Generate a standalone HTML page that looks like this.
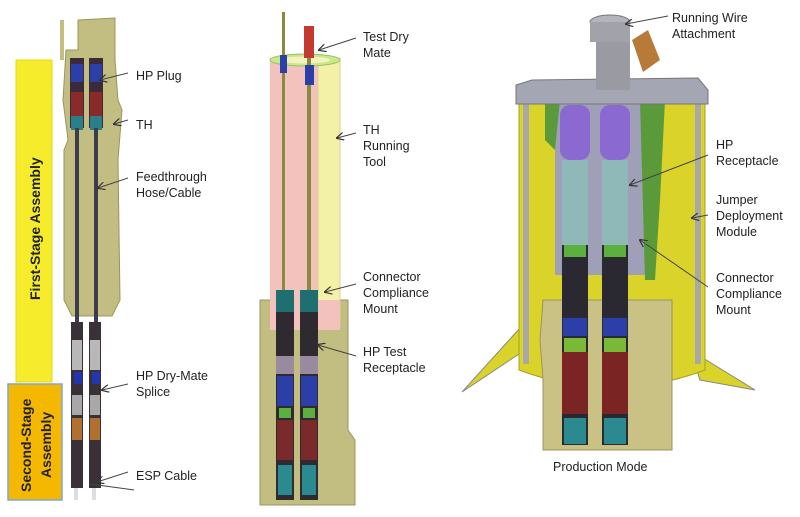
<!DOCTYPE html>
<html><head><meta charset="utf-8"><style>
html,body{margin:0;padding:0;background:#fff;}
svg{display:block}
text{font-family:"Liberation Sans",sans-serif;font-size:12.5px;fill:#222}
</style></head><body>
<svg width="800" height="517" viewBox="0 0 800 517" xmlns="http://www.w3.org/2000/svg">
<defs>
<marker id="ar" markerWidth="8" markerHeight="8" refX="7" refY="4" orient="auto"><path d="M0,0 L8,4 L0,8" fill="none" stroke="#333" stroke-width="1.2"/></marker>
</defs>
<!-- LEFT -->
<rect x="16" y="60" width="36" height="322" fill="#f7ec2c" stroke="#e6d81a"/>
<text transform="translate(40,300) rotate(-90)" style="font-weight:bold;font-size:14px">First-Stage Assembly</text>
<rect x="8" y="384" width="54" height="116" fill="#f5b800" stroke="#7da7d6" stroke-width="1.5"/>
<text transform="translate(31,492) rotate(-90)" style="font-weight:bold;font-size:14px">Second-Stage</text>
<text transform="translate(51,478) rotate(-90)" style="font-weight:bold;font-size:14px">Assembly</text>
<path d="M78,20 L115,18 L115,60 L118,100 L122,110 L118,160 L120,300 L112,316 L72,316 L64,300 L64,150 L68,140 L63,100 L66,50 L78,50 Z" fill="#c2bd80" stroke="#9a9560"/>
<rect x="60" y="20" width="4" height="40" fill="#c2bd80"/>
<rect x="70" y="58" width="14" height="70" fill="#3a2a3a"/><rect x="89" y="58" width="14" height="70" fill="#3a2a3a"/>
<rect x="71" y="64" width="12" height="18" fill="#2c3ea8"/><rect x="90" y="64" width="12" height="18" fill="#2c3ea8"/>
<rect x="71" y="92" width="12" height="24" fill="#8a2a2a"/><rect x="90" y="92" width="12" height="24" fill="#8a2a2a"/>
<rect x="71" y="116" width="12" height="14" fill="#2a7f8a"/><rect x="90" y="116" width="12" height="14" fill="#2a7f8a"/>
<rect x="75" y="128" width="4" height="195" fill="#3c3c4c"/><rect x="94" y="128" width="4" height="195" fill="#3c3c4c"/>
<rect x="71" y="322" width="12" height="166" fill="#3a3038"/><rect x="89" y="322" width="12" height="166" fill="#3a3038"/>
<rect x="72" y="340" width="10" height="30" fill="#b8b8b8"/><rect x="90" y="340" width="10" height="30" fill="#b8b8b8"/>
<rect x="74" y="372" width="8" height="12" fill="#2535b0"/><rect x="92" y="372" width="8" height="12" fill="#2535b0"/>
<rect x="72" y="395" width="10" height="20" fill="#a8a8a8"/><rect x="90" y="395" width="10" height="20" fill="#a8a8a8"/>
<rect x="72" y="418" width="10" height="22" fill="#b07030"/><rect x="90" y="418" width="10" height="22" fill="#b07030"/>
<rect x="74" y="488" width="4" height="12" fill="#ddd"/><rect x="92" y="488" width="4" height="12" fill="#ddd"/>
<g stroke="#444" stroke-width="1" marker-end="url(#ar)">
<line x1="128" y1="73" x2="100" y2="80"/><line x1="128" y1="120" x2="114" y2="124"/>
<line x1="128" y1="178" x2="98" y2="188"/><line x1="128" y1="384" x2="102" y2="390"/>
<line x1="128" y1="472" x2="97" y2="482"/></g>
<line x1="90" y1="484" x2="134" y2="490" stroke="#444"/>
<text x="136" y="80">HP Plug</text><text x="136" y="129">TH</text>
<text x="136" y="181">Feedthrough</text><text x="136" y="197">Hose/Cable</text>
<text x="136" y="380">HP Dry-Mate</text><text x="136" y="396">Splice</text>
<text x="136" y="480">ESP Cable</text>
<!-- MIDDLE -->
<path d="M260,300 L260,505 L355,505 L355,440 L348,430 L348,300 Z" fill="#c2bd80" stroke="#9a9560"/>
<rect x="270" y="58" width="52" height="262" fill="#f4c2bc"/>
<rect x="318" y="58" width="22" height="268" fill="#f3f0a8" stroke="#d8d58a"/>
<ellipse cx="305" cy="60" rx="35" ry="6" fill="#c8e88a" stroke="#9ac060"/>
<ellipse cx="305" cy="60" rx="25" ry="3.5" fill="#f6f2c0"/>
<rect x="270" y="300" width="70" height="30" fill="#f4c2bc"/>
<rect x="282" y="12" width="3" height="280" fill="#8a8a40"/><rect x="307" y="28" width="4" height="265" fill="#8a8a40"/>
<rect x="304" y="26" width="10" height="32" fill="#c23a30"/><rect x="280" y="55" width="7" height="18" fill="#2c3ea8"/><rect x="305" y="65" width="9" height="20" fill="#2c3ea8"/>
<rect x="276" y="290" width="18" height="210" fill="#2f2a30"/><rect x="300" y="290" width="18" height="210" fill="#2f2a30"/>
<rect x="276" y="290" width="18" height="22" fill="#1f6f70"/><rect x="300" y="290" width="18" height="22" fill="#1f6f70"/>
<rect x="276" y="356" width="18" height="18" fill="#9a8aa0"/><rect x="300" y="356" width="18" height="18" fill="#9a8aa0"/>
<rect x="277" y="376" width="16" height="30" fill="#2c3ea8"/><rect x="301" y="376" width="16" height="30" fill="#2c3ea8"/>
<rect x="279" y="408" width="12" height="10" fill="#5cb040"/><rect x="303" y="408" width="12" height="10" fill="#5cb040"/>
<rect x="277" y="420" width="16" height="40" fill="#7a2a2a"/><rect x="301" y="420" width="16" height="40" fill="#7a2a2a"/>
<rect x="278" y="465" width="14" height="30" fill="#2a8a90"/><rect x="302" y="465" width="14" height="30" fill="#2a8a90"/>
<g stroke="#444" stroke-width="1" marker-end="url(#ar)">
<line x1="356" y1="38" x2="319" y2="50"/><line x1="356" y1="133" x2="337" y2="138"/>
<line x1="356" y1="284" x2="325" y2="292"/><line x1="356" y1="356" x2="318" y2="345"/></g>
<text x="363" y="41">Test Dry</text><text x="363" y="57">Mate</text>
<text x="363" y="134">TH</text><text x="363" y="150">Running</text><text x="363" y="166">Tool</text>
<text x="363" y="281">Connector</text><text x="363" y="297">Compliance</text><text x="363" y="313">Mount</text>
<text x="363" y="356">HP Test</text><text x="363" y="372">Receptacle</text>
<!-- RIGHT -->
<path d="M462,392 L520,328 L522,352 Z" fill="#d9d32a" stroke="#888"/>
<path d="M690,350 L755,390 L700,380 Z" fill="#d9d32a" stroke="#888"/>
<path d="M519,96 L705,96 L705,370 Q612,405 519,370 Z" fill="#d9d32a" stroke="#a8a020"/>
<rect x="523" y="104" width="6" height="260" fill="#a8a8a8"/><rect x="695" y="104" width="6" height="260" fill="#a8a8a8"/>
<path d="M543,300 L672,300 L672,450 L543,450 L543,380 L540,340 Z" fill="#c9c284" stroke="#9a9560"/>
<path d="M555,100 L645,100 L645,275 L555,275 Z" fill="#9fa0b8"/>
<path d="M640,100 L665,100 L660,200 L655,280 L645,280 Z" fill="#5a9a3a"/>
<path d="M545,100 L560,100 L555,150 L545,140 Z" fill="#5a9a3a"/>
<path d="M516,85 L532,80 L698,78 L708,90 L708,104 L516,104 Z" fill="#a4a6b4" stroke="#777"/>
<rect x="596" y="30" width="34" height="60" fill="#9a9aa2"/>
<ellipse cx="610" cy="22" rx="20" ry="7" fill="#b4b4bc" stroke="#777"/><rect x="590" y="22" width="40" height="20" fill="#a2a2aa"/>
<path d="M632,40 L648,30 L660,60 L643,72 Z" fill="#b87a38"/>
<rect x="560" y="105" width="30" height="55" rx="10" fill="#8a6ad0"/><rect x="600" y="105" width="30" height="55" rx="10" fill="#8a6ad0"/>
<rect x="562" y="160" width="26" height="85" fill="#8fb8b8"/><rect x="602" y="160" width="26" height="85" fill="#8fb8b8"/>
<rect x="562" y="245" width="26" height="200" fill="#2a2830"/><rect x="602" y="245" width="26" height="200" fill="#2a2830"/>
<rect x="564" y="245" width="22" height="12" fill="#5cb040"/><rect x="604" y="245" width="22" height="12" fill="#5cb040"/>
<rect x="563" y="318" width="24" height="18" fill="#2c3ea8"/><rect x="603" y="318" width="24" height="18" fill="#2c3ea8"/>
<rect x="564" y="338" width="22" height="14" fill="#7ab838"/><rect x="604" y="338" width="22" height="14" fill="#7ab838"/>
<rect x="562" y="352" width="26" height="62" fill="#7a2424"/><rect x="602" y="352" width="26" height="62" fill="#7a2424"/>
<rect x="564" y="418" width="22" height="26" fill="#2a8a90"/><rect x="604" y="418" width="22" height="26" fill="#2a8a90"/>
<g stroke="#444" stroke-width="1" marker-end="url(#ar)">
<line x1="668" y1="16" x2="626" y2="24"/><line x1="708" y1="155" x2="630" y2="185"/>
<line x1="708" y1="215" x2="692" y2="218"/><line x1="708" y1="287" x2="640" y2="240"/></g>
<text x="672" y="22">Running Wire</text><text x="672" y="38">Attachment</text>
<text x="716" y="149">HP</text><text x="716" y="165">Receptacle</text>
<text x="716" y="204">Jumper</text><text x="716" y="220">Deployment</text><text x="716" y="236">Module</text>
<text x="716" y="282">Connector</text><text x="716" y="298">Compliance</text><text x="716" y="314">Mount</text>
<text x="553" y="471">Production Mode</text>
</svg>
</body></html>
